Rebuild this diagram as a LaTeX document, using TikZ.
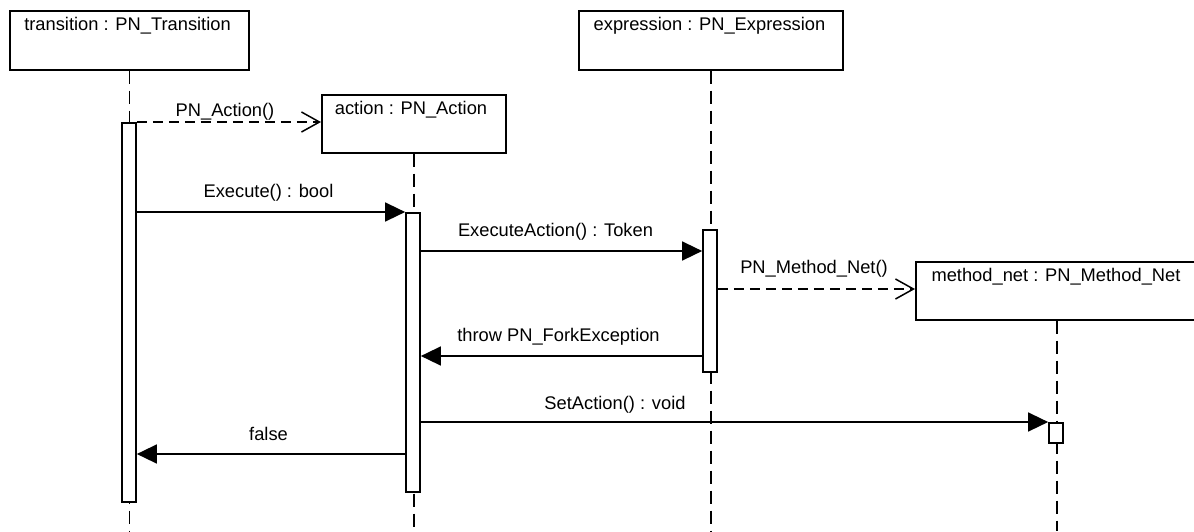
\documentclass[tikz,border=0pt]{standalone}
\usepackage{fontspec}
\setmainfont{Liberation Sans}
\usetikzlibrary{arrows.meta}
\begin{document}
\begin{tikzpicture}[x=1pt,y=-1pt,
  font=\fontsize{18.3}{22}\selectfont,
  objbox/.style={draw, line width=1.7pt, fill=white, inner sep=0, anchor=north west},
  actbar/.style={draw, line width=1.7pt, fill=white, inner sep=0, minimum width=14pt, anchor=north},
  life/.style={line width=1.7pt, dash pattern=on 13pt off 7pt},
  txt/.style={anchor=base, inner sep=0},
  call/.style={line width=1.5pt, -{Triangle[length=20pt,width=19pt]}},
  create/.style={line width=1.5pt, dash pattern=on 10pt off 6pt, -{Straight Barb[length=18pt,width=20pt,line width=1.5pt]}}]
\useasboundingbox (0,0) rectangle (1194,531);
% object boxes
\node[objbox, minimum width=239pt, minimum height=59pt] (trans) at (9,10) {};
\node[objbox, minimum width=184pt, minimum height=58pt] (action) at (321,94) {};
\node[objbox, minimum width=264pt, minimum height=59pt] (expr) at (578,10) {};
\node[objbox, minimum width=282pt, minimum height=58pt] (mnet) at (915,261) {};
\node[txt] (transT) at (127.5,30.7) {transition : PN\_Transition};
\node[txt] (actionT) at (411,114) {action : PN\_Action};
\node[txt] (exprT) at (709.5,30.7) {expression : PN\_Expression};
\node[txt] (mnetT) at (1056,281) {method\_net : PN\_Method\_Net};
% lifelines
\draw[life] (trans.south) -- (trans.south |- 0,531);
\draw[life] (action.south) -- (action.south |- 0,531);
\draw[life] (expr.south) -- (expr.south |- 0,531);
\draw[life] (mnet.south) -- (mnet.south |- 0,531);
% activation bars
\node[actbar, minimum height=379pt] (actT) at (129,122) {};
\node[actbar, minimum height=279pt] (actA) at (413,212) {};
\node[actbar, minimum height=142pt] (actE) at (710,229) {};
\node[actbar, minimum height=20pt] (actM) at (1056,422) {};
% messages
\draw[create] (actT.north east) -- (actT.north east -| action.west);
\node[txt] (m1) at (225,116) {PN\_Action()};
\draw[call] (actT.east |- actA.north) -- (actA.north west);
\node[txt] (m2) at (268.5,197.7) {Execute() : bool};
\draw[call] (actA.east |- 0,251) -- (actE.west |- 0,251);
\node[txt] (m3) at (555.5,236.7) {ExecuteAction() : Token};
\draw[create] (actE.east |- 0,289) -- (mnet.west |- 0,289);
\node[txt] (m4) at (814,273) {PN\_Method\_Net()};
\draw[call] (actE.west |- 0,356) -- (actA.east |- 0,356);
\node[txt] (m5) at (558.5,341.7) {throw PN\_ForkException};
\draw[call] (actA.east |- actM.north) -- (actM.north west);
\node[txt] (m6) at (615,409) {SetAction() : void};
\draw[call] (actA.west |- 0,454) -- (actT.east |- 0,454);
\node[txt] (m7) at (268.5,440.7) {false};
\end{tikzpicture}
\end{document}
